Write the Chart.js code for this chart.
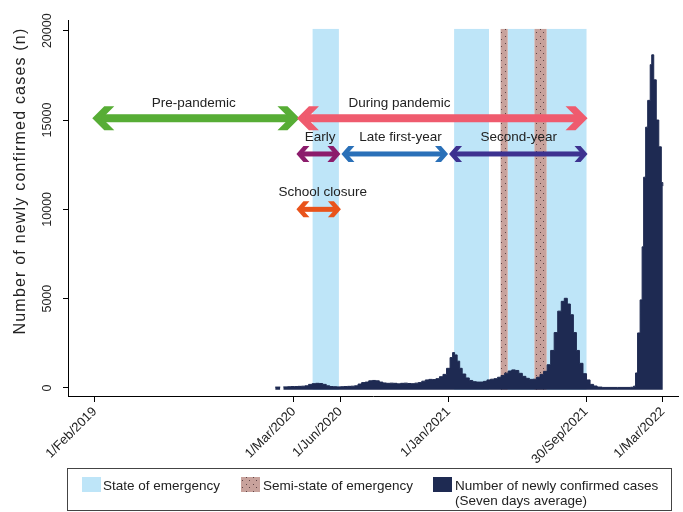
<!DOCTYPE html>
<html>
<head>
<meta charset="utf-8">
<script src="https://cdn.jsdelivr.net/npm/chart.js@4.4.0/dist/chart.umd.min.js"></script>
<style>
  html, body { margin: 0; padding: 0; background: #fff; }
  #wrap { width: 683px; height: 512px; }
</style>
</head>
<body>
<div id="wrap"><canvas id="my-chart"></canvas></div>
<script>
// seven-day average of new cases, each value holds until the next date
const caseDates = [
  "2020-01-24", "2020-02-03", "2020-02-05", "2020-02-09", "2020-02-17", "2020-02-24",
  "2020-03-02", "2020-03-09", "2020-03-16", "2020-03-23", "2020-03-30", "2020-04-06",
  "2020-04-13", "2020-04-20", "2020-04-27", "2020-05-04", "2020-05-11", "2020-05-18",
  "2020-05-25", "2020-06-01", "2020-06-08", "2020-06-15", "2020-06-22", "2020-06-29",
  "2020-07-06", "2020-07-13", "2020-07-20", "2020-07-27", "2020-08-03", "2020-08-10",
  "2020-08-17", "2020-08-24", "2020-08-31", "2020-09-07", "2020-09-14", "2020-09-21",
  "2020-09-28", "2020-10-05", "2020-10-12", "2020-10-19", "2020-10-26", "2020-11-02",
  "2020-11-09", "2020-11-16", "2020-11-23", "2020-11-30", "2020-12-07", "2020-12-14",
  "2020-12-21", "2020-12-28", "2021-01-04", "2021-01-09", "2021-01-13", "2021-01-18",
  "2021-01-23", "2021-01-28", "2021-02-04", "2021-02-11", "2021-02-18", "2021-02-25",
  "2021-03-04", "2021-03-11", "2021-03-18", "2021-03-25", "2021-04-01", "2021-04-08",
  "2021-04-15", "2021-04-22", "2021-04-29", "2021-05-06", "2021-05-13", "2021-05-20",
  "2021-05-27", "2021-06-03", "2021-06-10", "2021-06-17", "2021-06-24", "2021-07-01",
  "2021-07-08", "2021-07-15", "2021-07-22", "2021-07-29", "2021-08-05", "2021-08-12",
  "2021-08-18", "2021-08-24", "2021-08-30", "2021-09-05", "2021-09-11", "2021-09-17",
  "2021-09-24", "2021-10-01", "2021-10-08", "2021-10-15", "2021-10-22", "2021-11-01",
  "2021-12-01", "2021-12-27", "2022-01-02", "2022-01-06", "2022-01-10", "2022-01-15",
  "2022-01-19", "2022-01-22", "2022-01-26", "2022-01-30", "2022-02-04", "2022-02-07",
  "2022-02-11", "2022-02-16", "2022-02-21", "2022-02-26", "2022-03-01"
];
const caseValues = [
  50, 50, null, 60, 70, 80,
  80, 90, 100, 120, 200, 240,
  260, 250, 200, 120, 80, 70,
  60, 70, 80, 90, 100, 120,
  220, 300, 330, 400, 420, 400,
  330, 280, 260, 270, 260, 230,
  260, 270, 250, 240, 270, 300,
  380, 450, 480, 470, 520, 630,
  760, 1100, 1700, 1980, 1850, 1500,
  1100, 780, 560, 420, 350, 330,
  330, 370, 450, 490, 520, 600,
  700, 830, 950, 1010, 980, 820,
  650, 540, 480, 490, 600, 760,
  930, 1300, 2100, 3100, 4300, 4850,
  5020, 4700, 4100, 3100, 2100, 1380,
  800, 450, 200, 110, 50, 30,
  30, 40, 100, 840, 3080, 4930,
  7900, 11800, 14600, 16100, 18100, 18650,
  17250, 15000, 13500, 11500, 11300
];

const tickDates = ["2019-02-01", "2020-03-01", "2020-06-01", "2021-01-01", "2021-09-30", "2022-03-01"];
const tickLabels = ["1/Feb/2019", "1/Mar/2020", "1/Jun/2020", "1/Jan/2021", "30/Sep/2021", "1/Mar/2022"];
const yTicks = [0, 5000, 10000, 15000, 20000];

// state of emergency and semi-state periods
const emergencyStarts = ["2020-04-07", "2021-01-12", "2021-04-28", "2021-07-14"];
const emergencyEnds = ["2020-05-29", "2021-03-22", "2021-06-20", "2021-10-01"];
const semiStarts = ["2021-04-14", "2021-06-20"];
const semiEnds = ["2021-04-28", "2021-07-14"];

// period arrows
const arrowLabels = ["Pre-pandemic", "During pandemic", "Early", "Late first-year", "Second-year", "School closure"];
const arrowStarts = ["2019-01-27", "2020-03-07", "2020-03-06", "2020-06-03", "2021-01-02", "2020-03-06"];
const arrowEnds = ["2020-03-12", "2021-10-03", "2020-06-01", "2020-12-31", "2021-10-03", "2020-06-02"];
const arrowLevels = [15100, 15100, 13100, 13100, 13100, 10000];
const arrowLabelAt = ["2019-08-16", "2020-09-26", "2020-04-22", "2020-09-28", "2021-05-20", "2020-04-27"];

const arrowColors = ["#57ad35", "#ef5b6e", "#8c1c6c", "#2a70b8", "#3d3290", "#e9531b"];
const arrowBig = [true, true, false, false, false, false];

const navy = "#1e2a52";
const sky = "#bee5f8";
const font = "'Liberation Sans', Arial, sans-serif";

function toDay(s) {
  return Date.UTC(+s.slice(0, 4), +s.slice(5, 7) - 1, +s.slice(8, 10)) / 86400000;
}

function hatch(ctx) {
  const c = document.createElement("canvas");
  c.width = 7;
  c.height = 7;
  const p = c.getContext("2d");
  p.fillStyle = "#c8a29c";
  p.fillRect(0, 0, 7, 7);
  p.fillStyle = "#5e4446";
  p.fillRect(1, 1, 1, 1);
  p.fillRect(4, 4, 1, 1);
  return ctx.createPattern(c, "repeat");
}

function arrowHead(ctx, tx, y, dir, big) {
  const d = big ? 12 : 7;
  const w = big ? 10 : 6;
  const h = big ? 24 : 16;
  ctx.beginPath();
  ctx.moveTo(tx, y);
  ctx.lineTo(tx + dir * d, y - h / 2);
  ctx.lineTo(tx + dir * (d + w), y - h / 2);
  ctx.lineTo(tx + dir * w, y);
  ctx.lineTo(tx + dir * (d + w), y + h / 2);
  ctx.lineTo(tx + dir * d, y + h / 2);
  ctx.closePath();
  ctx.fill();
  return w;
}

const periodPlugin = {
  id: "periods",
  beforeDatasetsDraw(chart) {
    const ctx = chart.ctx;
    const x = chart.scales.x;
    const y = chart.scales.y;
    const top = y.getPixelForValue(20100);
    const bottom = y.getPixelForValue(-100);
    ctx.save();
    ctx.fillStyle = sky;
    emergencyStarts.forEach((s, i) => {
      const x0 = x.getPixelForValue(toDay(s));
      const x1 = x.getPixelForValue(toDay(emergencyEnds[i]));
      ctx.fillRect(x0, top, x1 - x0, bottom - top);
    });
    ctx.fillStyle = hatch(ctx);
    semiStarts.forEach((s, i) => {
      const x0 = x.getPixelForValue(toDay(s));
      const x1 = x.getPixelForValue(toDay(semiEnds[i]));
      ctx.fillRect(x0, top, x1 - x0, bottom - top);
    });
    ctx.restore();
  },
  afterDraw(chart) {
    const ctx = chart.ctx;
    const x = chart.scales.x;
    const y = chart.scales.y;
    ctx.save();

    // arrows and their labels
    arrowLabels.forEach((label, i) => {
      const big = arrowBig[i];
      const yy = y.getPixelForValue(arrowLevels[i]);
      const x0 = x.getPixelForValue(toDay(arrowStarts[i]));
      const x1 = x.getPixelForValue(toDay(arrowEnds[i]));
      ctx.fillStyle = arrowColors[i];
      const w = arrowHead(ctx, x0, yy, 1, big);
      arrowHead(ctx, x1, yy, -1, big);
      const t = big ? 8 : 5;
      ctx.fillRect(x0 + w - 1, yy - t / 2, x1 - x0 - 2 * w + 2, t);

      ctx.fillStyle = "#222";
      ctx.font = "13.5px " + font;
      ctx.textAlign = "center";
      ctx.textBaseline = "middle";
      ctx.fillText(label, x.getPixelForValue(toDay(arrowLabelAt[i])), yy - (big ? 15 : 17));
    });

    // y axis title
    ctx.save();
    ctx.translate(21, 181);
    ctx.rotate(-Math.PI / 2);
    ctx.fillStyle = "#222";
    ctx.font = "16px " + font;
    ctx.letterSpacing = "1.2px";
    ctx.textAlign = "center";
    ctx.textBaseline = "middle";
    ctx.fillText("Number of newly confirmed cases (n)", 0, 0);
    ctx.restore();

    // legend box
    ctx.strokeStyle = "#444";
    ctx.lineWidth = 1;
    ctx.strokeRect(67.5, 468.5, 604, 42);
    ctx.fillStyle = sky;
    ctx.fillRect(82, 477, 19, 15);
    ctx.fillStyle = hatch(ctx);
    ctx.fillRect(241, 477, 19, 15);
    ctx.fillStyle = navy;
    ctx.fillRect(433, 477, 19, 15);
    ctx.fillStyle = "#222";
    ctx.font = "13.5px " + font;
    ctx.textAlign = "left";
    ctx.textBaseline = "middle";
    ctx.fillText("State of emergency", 103, 486);
    ctx.fillText("Semi-state of emergency", 263, 486);
    ctx.fillText("Number of newly confirmed cases", 455, 486);
    ctx.fillText("(Seven days average)", 455, 501);
    ctx.restore();
  }
};

const ctx = document.getElementById("my-chart").getContext("2d");

new Chart(ctx, {
  type: "line",
  data: {
    datasets: [
      {
        label: "Number of newly confirmed cases (Seven days average)",
        data: caseDates.map((d, i) => ({ x: toDay(d), y: caseValues[i] })),
        stepped: "before",
        fill: { value: -100 },
        backgroundColor: navy,
        borderColor: navy,
        borderWidth: 1,
        pointRadius: 0,
        spanGaps: false
      }
    ]
  },
  options: {
    animation: false,
    responsive: true,
    maintainAspectRatio: false,
    layout: { padding: { left: 0, top: 20, right: 5, bottom: 46 } },
    plugins: {
      legend: { display: false },
      tooltip: { enabled: false }
    },
    scales: {
      x: {
        type: "linear",
        min: toDay("2018-12-10"),
        max: toDay("2022-03-31"),
        afterBuildTicks: scale => {
          scale.ticks = tickDates.map(d => ({ value: toDay(d) }));
        },
        afterFit: scale => {
          scale.height = 70;
          scale.paddingLeft = 0;
          scale.paddingRight = 0;
        },
        ticks: {
          autoSkip: false,
          minRotation: 45,
          maxRotation: 45,
          padding: 2,
          color: "#222",
          font: { family: font, size: 13 },
          callback: (v, i) => tickLabels[i]
        },
        grid: { display: true, drawOnChartArea: false, drawTicks: true, tickLength: 6, color: "#000" },
        border: { display: true, color: "#000", width: 1 }
      },
      y: {
        min: -450,
        max: 20600,
        afterBuildTicks: scale => {
          scale.ticks = yTicks.map(v => ({ value: v }));
        },
        afterFit: scale => {
          scale.width = 68;
          scale.paddingTop = 0;
          scale.paddingBottom = 0;
        },
        ticks: {
          minRotation: 90,
          maxRotation: 90,
          crossAlign: "center",
          padding: -2,
          color: "#222",
          font: { family: font, size: 12.5 },
          callback: v => String(v)
        },
        grid: { display: true, drawOnChartArea: false, drawTicks: true, tickLength: 5, color: "#000" },
        border: { display: true, color: "#000", width: 1 }
      }
    }
  },
  plugins: [periodPlugin]
});
</script>
</body>
</html>
